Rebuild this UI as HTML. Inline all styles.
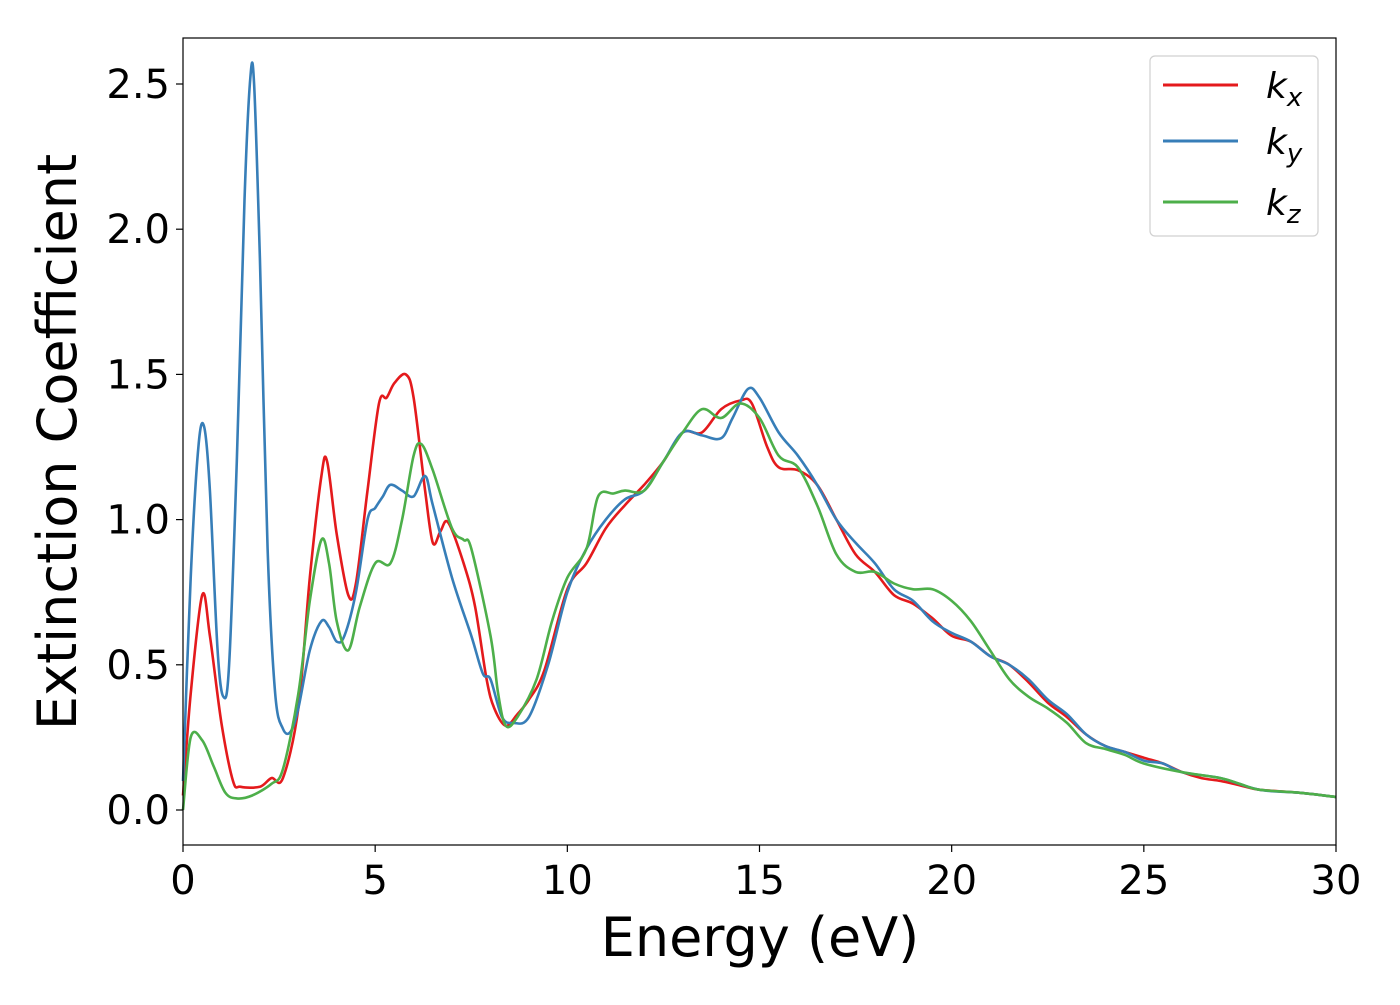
<!DOCTYPE html>
<html><head><meta charset="utf-8"><style>
body{margin:0;background:#fff}
svg text{font-family:"DejaVu Sans","Liberation Sans",sans-serif;fill:#000}
</style></head><body>
<svg id="chart" width="1400" height="1000" xmlns="http://www.w3.org/2000/svg">
<rect x="0" y="0" width="1400" height="1000" fill="#fff"/>
<g id="series"></g>
<rect x="183" y="38" width="1153" height="807" fill="none" stroke="#000" stroke-width="1.2"/>
<g id="axes"></g>
<text x="760" y="956" font-size="54" text-anchor="middle">Energy (eV)</text>
<text transform="translate(76,442) rotate(-90)" font-size="54" text-anchor="middle">Extinction Coefficient</text>
<g>
<rect x="1150" y="56" width="168" height="180" rx="5" fill="#fff" stroke="#d0d0d0" stroke-width="1.2"/>
<line x1="1163" y1="85" x2="1238" y2="85" stroke="#e41a1c" stroke-width="3"/>
<text x="1266" y="98" font-size="36" font-style="italic">k<tspan font-size="26" dy="8">x</tspan></text>
<line x1="1163" y1="141" x2="1238" y2="141" stroke="#377eb8" stroke-width="3"/>
<text x="1266" y="154" font-size="36" font-style="italic">k<tspan font-size="26" dy="8">y</tspan></text>
<line x1="1163" y1="202" x2="1238" y2="202" stroke="#4daf4a" stroke-width="3"/>
<text x="1266" y="215" font-size="36" font-style="italic">k<tspan font-size="26" dy="8">z</tspan></text>
</g>
</svg>
<script>
const xTicks=[0,5,10,15,20,25,30];
const yTicks=[0.0,0.5,1.0,1.5,2.0,2.5];
const yTickLabels=["0.0","0.5","1.0","1.5","2.0","2.5"];
const kxE=[0,0.2,0.5,0.7,1.0,1.3,1.5,2.0,2.3,2.6,3.0,3.3,3.6,3.75,4.0,4.3,4.5,4.8,5.1,5.3,5.5,5.8,6.0,6.3,6.5,6.7,6.9,7.3,7.6,7.9,8.1,8.4,8.7,9.0,9.4,10,10.5,11,11.5,12,12.5,13,13.5,14,14.5,14.8,15.2,15.5,16,16.5,17,17.5,18,18.5,19,19.5,20,20.5,21,21.5,22,22.5,23,23.5,24,24.5,25,25.5,26,26.5,27,27.5,28,29,30];
const kxV=[0.05,0.4,0.74,0.6,0.3,0.1,0.08,0.08,0.11,0.11,0.35,0.8,1.15,1.2,0.95,0.74,0.78,1.1,1.4,1.42,1.47,1.5,1.42,1.1,0.92,0.96,0.99,0.85,0.7,0.45,0.35,0.29,0.33,0.38,0.48,0.76,0.85,0.97,1.05,1.12,1.2,1.3,1.3,1.38,1.41,1.4,1.25,1.18,1.17,1.12,1.0,0.88,0.82,0.74,0.71,0.66,0.6,0.58,0.53,0.5,0.44,0.37,0.32,0.26,0.22,0.2,0.18,0.16,0.13,0.11,0.1,0.085,0.07,0.06,0.045];
const kyE=[0,0.2,0.4,0.55,0.7,0.9,1.05,1.2,1.4,1.6,1.75,1.85,2.0,2.2,2.4,2.6,2.8,3.0,3.3,3.6,3.8,4.0,4.2,4.5,4.8,5.0,5.2,5.4,5.7,6.0,6.3,6.5,7.0,7.5,7.8,8.0,8.3,8.6,9.0,9.5,10,10.5,11,11.5,12,12.5,13,13.5,14,14.3,14.7,15,15.5,16,16.5,17,17.5,18,18.5,19,19.5,20,20.5,21,21.5,22,22.5,23,23.5,24,24.5,25,25.5,26,27,28,29,30];
const kyV=[0.1,0.8,1.25,1.32,1.1,0.55,0.39,0.5,1.2,2.1,2.52,2.5,1.9,0.9,0.4,0.28,0.27,0.35,0.55,0.65,0.63,0.58,0.6,0.75,1.0,1.04,1.08,1.12,1.1,1.08,1.15,1.05,0.8,0.6,0.47,0.45,0.32,0.3,0.32,0.5,0.75,0.9,1.0,1.07,1.1,1.2,1.3,1.29,1.28,1.35,1.45,1.42,1.3,1.22,1.12,1.0,0.92,0.85,0.76,0.72,0.65,0.61,0.58,0.53,0.5,0.45,0.38,0.33,0.26,0.22,0.2,0.17,0.16,0.13,0.11,0.07,0.06,0.045];
const kzE=[0,0.2,0.5,0.8,1.1,1.4,1.8,2.3,2.6,3.0,3.3,3.6,3.8,4.0,4.3,4.6,5.0,5.4,5.7,6.0,6.2,6.5,7.0,7.3,7.5,8.0,8.2,8.4,8.7,9.2,9.6,10,10.5,10.8,11.2,11.5,12,12.5,13,13.5,14,14.5,15,15.5,16,16.5,17,17.5,18,18.5,19,19.5,20,20.5,21,21.5,22,22.5,23,23.5,24,24.5,25,26,27,27.5,28,29,30];
const kzV=[0.0,0.25,0.24,0.15,0.06,0.04,0.05,0.09,0.14,0.4,0.72,0.93,0.85,0.65,0.55,0.7,0.85,0.85,1.0,1.22,1.26,1.17,0.97,0.93,0.9,0.6,0.4,0.29,0.32,0.45,0.65,0.8,0.9,1.08,1.09,1.1,1.1,1.2,1.3,1.38,1.35,1.4,1.35,1.22,1.18,1.05,0.88,0.82,0.82,0.78,0.76,0.76,0.72,0.65,0.55,0.45,0.39,0.35,0.3,0.23,0.21,0.19,0.16,0.13,0.11,0.09,0.07,0.06,0.045];

const NS="http://www.w3.org/2000/svg";
const X0=183,X1=1336,Y0v=810,Yscale=290.4;
function xs(v){return X0+(X1-X0)*v/30;}
function ys(v){return Y0v-v*Yscale;}
function pathFrom(E,V){
  const p=E.map((e,i)=>[xs(e),ys(V[i])]);
  let d="M"+p[0][0].toFixed(1)+","+p[0][1].toFixed(1);
  for(let i=0;i<p.length-1;i++){
    const a=p[Math.max(i-1,0)],b=p[i],c=p[i+1],n=p[Math.min(i+2,p.length-1)];
    const c1=[b[0]+(c[0]-a[0])/6,b[1]+(c[1]-a[1])/6];
    const c2=[c[0]-(n[0]-b[0])/6,c[1]-(n[1]-b[1])/6];
    d+=" C"+c1[0].toFixed(1)+","+c1[1].toFixed(1)+" "+c2[0].toFixed(1)+","+c2[1].toFixed(1)+" "+c[0].toFixed(1)+","+c[1].toFixed(1);
  }
  return d;
}
const sg=document.getElementById("series");
[[kxE,kxV,"#e41a1c","series-kx"],[kyE,kyV,"#377eb8","series-ky"],[kzE,kzV,"#4daf4a","series-kz"]].forEach(s=>{
  const el=document.createElementNS(NS,"path");
  el.setAttribute("d",pathFrom(s[0],s[1]));
  el.setAttribute("fill","none");
  el.setAttribute("stroke",s[2]);
  el.setAttribute("stroke-width","2.6");
  
  
  sg.appendChild(el);
});
const ag=document.getElementById("axes");
xTicks.forEach(t=>{
  const l=document.createElementNS(NS,"line");
  l.setAttribute("x1",xs(t));l.setAttribute("x2",xs(t));l.setAttribute("y1",845);l.setAttribute("y2",852);
  l.setAttribute("stroke","#000");l.setAttribute("stroke-width","1.2");
  
  
  ag.appendChild(l);
  const tx=document.createElementNS(NS,"text");
  tx.setAttribute("x",xs(t));tx.setAttribute("y",894);tx.setAttribute("font-size","40");tx.setAttribute("text-anchor","middle");
  tx.textContent=String(t);
  
  
  ag.appendChild(tx);
});
yTicks.forEach((t,i)=>{
  const l=document.createElementNS(NS,"line");
  l.setAttribute("x1",176);l.setAttribute("x2",183);l.setAttribute("y1",ys(t));l.setAttribute("y2",ys(t));
  l.setAttribute("stroke","#000");l.setAttribute("stroke-width","1.2");
  
  
  ag.appendChild(l);
  const tx=document.createElementNS(NS,"text");
  tx.setAttribute("x",170);tx.setAttribute("y",ys(t)+14);tx.setAttribute("font-size","40");tx.setAttribute("text-anchor","end");
  tx.textContent=yTickLabels[i];
  
  
  ag.appendChild(tx);
});
</script>
</body></html>
